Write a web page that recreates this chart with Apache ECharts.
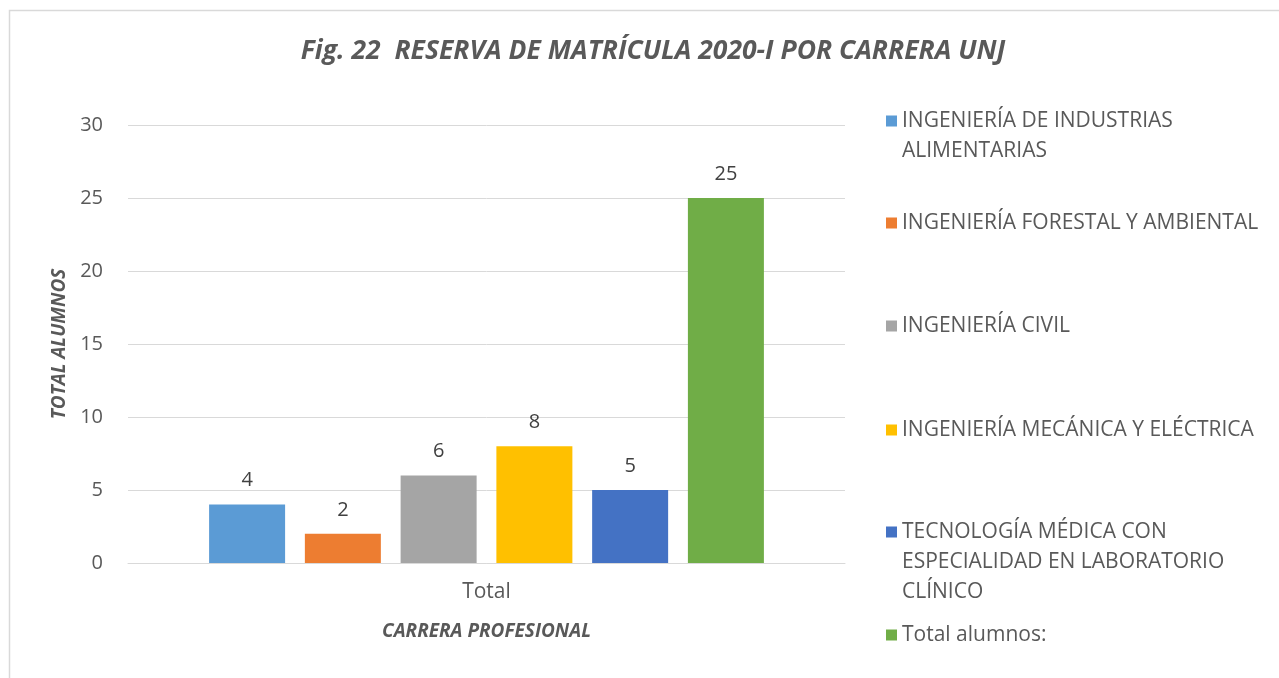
<!DOCTYPE html>
<html>
<head>
<meta charset="utf-8">
<script src="https://cdn.jsdelivr.net/npm/echarts@6/dist/echarts.min.js"></script>
<style>
html,body{margin:0;padding:0;background:#fff;}
#c{width:1279px;height:678px;}
</style>
</head>
<body>
<div id="c"></div>
<script>
const titleText = 'Fig. 22  RESERVA DE MATRÍCULA 2020-I POR CARRERA UNJ';
const categories = ['Total'];
const seriesNames = [
  'INGENIERÍA DE INDUSTRIAS ALIMENTARIAS',
  'INGENIERÍA FORESTAL Y AMBIENTAL',
  'INGENIERÍA CIVIL',
  'INGENIERÍA MECÁNICA Y ELÉCTRICA',
  'TECNOLOGÍA MÉDICA CON ESPECIALIDAD EN LABORATORIO CLÍNICO',
  'Total alumnos:'
];
const legendLabels = [
  'INGENIERÍA DE INDUSTRIAS\nALIMENTARIAS',
  'INGENIERÍA FORESTAL Y AMBIENTAL',
  'INGENIERÍA CIVIL',
  'INGENIERÍA MECÁNICA Y ELÉCTRICA',
  'TECNOLOGÍA MÉDICA CON\nESPECIALIDAD EN LABORATORIO\nCLÍNICO',
  'Total alumnos:'
];
const seriesValues = [[4], [2], [6], [8], [5], [25]];
const colors = ['#5B9BD5', '#ED7D31', '#A5A5A5', '#FFC000', '#4472C4', '#70AD47'];
const yTicks = [0, 5, 10, 15, 20, 25, 30];

const FONT = '"Open Sans", sans-serif';
const legendTops = [106, 208, 311, 415, 517, 620];

const chart = echarts.init(document.getElementById('c'), null, {renderer: 'canvas'});

function iconFor(lines) {
  if (lines === 1) return 'rect';
  const h = lines === 2 ? 41 : 71;
  return 'path://M0,0H11V11H0Z M0,' + (h - 0.02) + 'H0.02V' + h + 'H0Z';
}

const legends = seriesNames.map((n, i) => {
  const lines = legendLabels[i].split('\n').length;
  return {
    data: [n],
    left: 886,
    top: legendTops[i],
    orient: 'vertical',
    itemWidth: 11,
    itemHeight: lines === 1 ? 11 : (lines === 2 ? 41 : 71),
    icon: iconFor(lines),
    padding: 0,
    formatter: () => legendLabels[i],
    selectedMode: false,
    textStyle: {color: '#595959', fontSize: 21, fontFamily: FONT, lineHeight: 30}
  };
});

chart.setOption({
  animation: false,
  color: colors,
  title: {
    text: titleText,
    left: 648,
    textAlign: 'center',
    top: 33,
    textStyle: {color: '#595959', fontSize: 26.5, fontWeight: 'bold', fontStyle: 'italic', fontFamily: FONT}
  },
  graphic: [{
    type: 'rect',
    shape: {x: 9.5, y: 10.5, width: 1400, height: 800},
    style: {fill: 'none', stroke: '#d9d9d9', lineWidth: 1.5},
    silent: true
  }],
  legend: legends,
  grid: {left: 128, right: 434, top: 125, bottom: 115, containLabel: false},
  xAxis: {
    type: 'category',
    data: categories,
    axisLine: {lineStyle: {color: '#d9d9d9', width: 1}},
    axisTick: {show: false},
    axisLabel: {color: '#595959', fontSize: 21, fontFamily: FONT, margin: 19},
    name: 'CARRERA PROFESIONAL',
    nameLocation: 'middle',
    nameGap: 59,
    nameTextStyle: {color: '#595959', fontSize: 19, fontWeight: 'bold', fontStyle: 'italic', fontFamily: FONT}
  },
  yAxis: {
    type: 'value',
    min: 0,
    max: 30,
    interval: 5,
    axisLine: {show: false},
    axisTick: {show: false},
    splitLine: {lineStyle: {color: '#d9d9d9', width: 1}},
    axisLabel: {color: '#595959', fontSize: 20, fontFamily: FONT, margin: 25,
      formatter: v => yTicks.includes(v) ? String(v) : ''},
    name: 'TOTAL ALUMNOS',
    nameLocation: 'middle',
    nameGap: 53,
    nameTextStyle: {color: '#595959', fontSize: 19, fontWeight: 'bold', fontStyle: 'italic', fontFamily: FONT}
  },
  series: seriesNames.map((n, i) => ({
    type: 'bar',
    name: n,
    data: seriesValues[i],
    barWidth: 76,
    barGap: '26%',
    itemStyle: {color: colors[i]},
    label: {show: true, position: 'top', distance: 14, color: '#404040', fontSize: 20, fontFamily: FONT}
  }))
});
</script>
</body>
</html>
